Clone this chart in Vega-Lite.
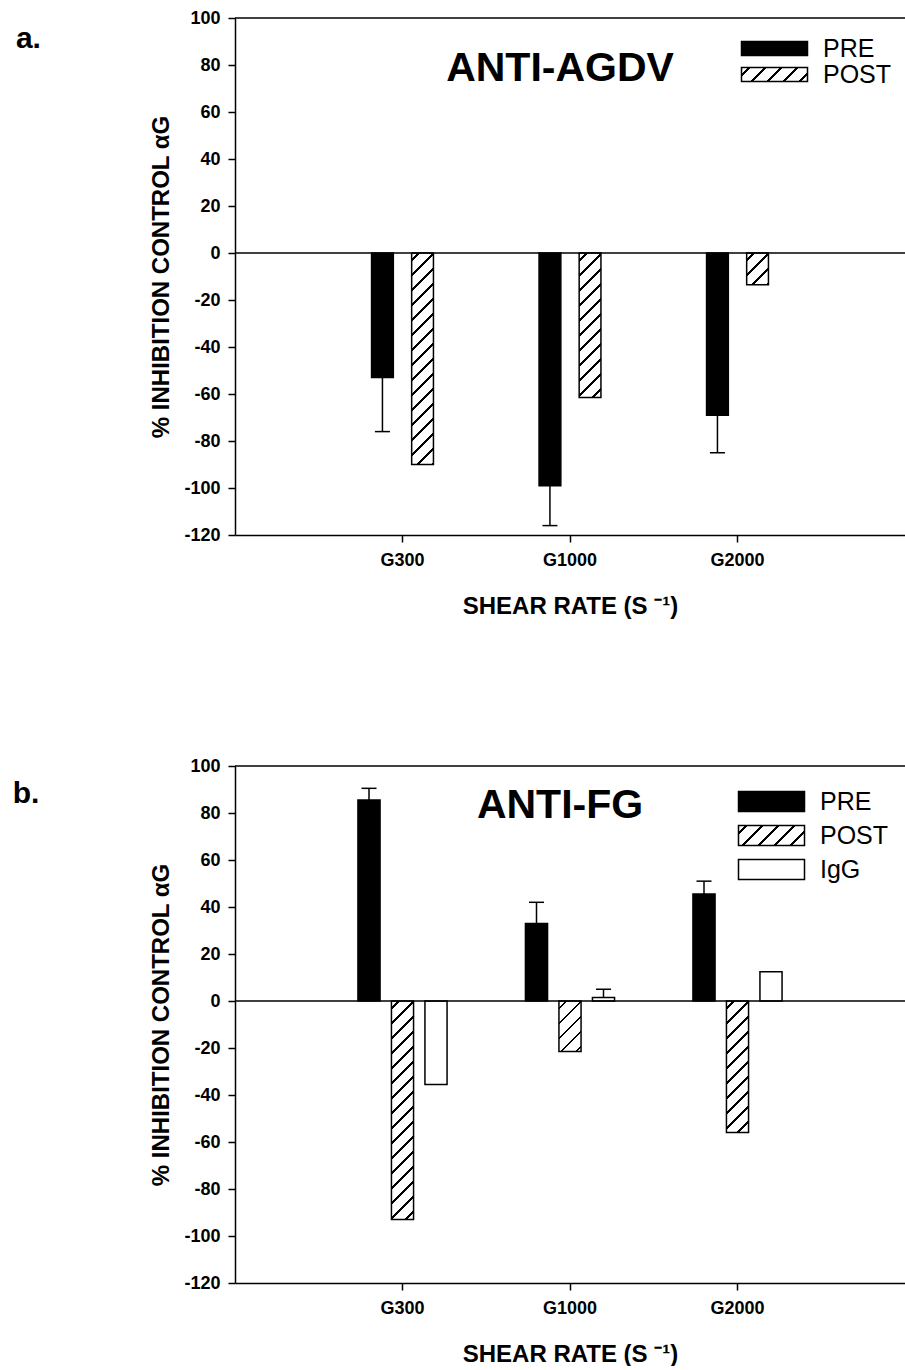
{
  "$schema": "https://vega.github.io/schema/vega-lite/v6.json",
  "background": "white",
  "padding": {"left": 12, "top": 9, "right": 0, "bottom": 0},
  "spacing": 139,
  "resolve": {"scale": {"x": "independent", "y": "independent", "xOffset": "independent", "fill": "independent"}, "legend": {"fill": "independent"}, "axis": {"x": "independent", "y": "independent"}},
  "params": [
    {"name": "hatchStops", "value": [
      {"offset": 0, "color": "white"},
      {"offset": 0.02346, "color": "white"}, {"offset": 0.02346, "color": "black"}, {"offset": 0.03423, "color": "black"}, {"offset": 0.03423, "color": "white"},
      {"offset": 0.08115, "color": "white"}, {"offset": 0.08115, "color": "black"}, {"offset": 0.09192, "color": "black"}, {"offset": 0.09192, "color": "white"},
      {"offset": 0.13885, "color": "white"}, {"offset": 0.13885, "color": "black"}, {"offset": 0.14962, "color": "black"}, {"offset": 0.14962, "color": "white"},
      {"offset": 0.19654, "color": "white"}, {"offset": 0.19654, "color": "black"}, {"offset": 0.20731, "color": "black"}, {"offset": 0.20731, "color": "white"},
      {"offset": 0.25423, "color": "white"}, {"offset": 0.25423, "color": "black"}, {"offset": 0.26500, "color": "black"}, {"offset": 0.26500, "color": "white"},
      {"offset": 0.31192, "color": "white"}, {"offset": 0.31192, "color": "black"}, {"offset": 0.32269, "color": "black"}, {"offset": 0.32269, "color": "white"},
      {"offset": 0.36962, "color": "white"}, {"offset": 0.36962, "color": "black"}, {"offset": 0.38038, "color": "black"}, {"offset": 0.38038, "color": "white"},
      {"offset": 0.42731, "color": "white"}, {"offset": 0.42731, "color": "black"}, {"offset": 0.43808, "color": "black"}, {"offset": 0.43808, "color": "white"},
      {"offset": 0.48500, "color": "white"}, {"offset": 0.48500, "color": "black"}, {"offset": 0.49577, "color": "black"}, {"offset": 0.49577, "color": "white"},
      {"offset": 0.54269, "color": "white"}, {"offset": 0.54269, "color": "black"}, {"offset": 0.55346, "color": "black"}, {"offset": 0.55346, "color": "white"},
      {"offset": 0.60038, "color": "white"}, {"offset": 0.60038, "color": "black"}, {"offset": 0.61115, "color": "black"}, {"offset": 0.61115, "color": "white"},
      {"offset": 0.65808, "color": "white"}, {"offset": 0.65808, "color": "black"}, {"offset": 0.66885, "color": "black"}, {"offset": 0.66885, "color": "white"},
      {"offset": 0.71577, "color": "white"}, {"offset": 0.71577, "color": "black"}, {"offset": 0.72654, "color": "black"}, {"offset": 0.72654, "color": "white"},
      {"offset": 0.77346, "color": "white"}, {"offset": 0.77346, "color": "black"}, {"offset": 0.78423, "color": "black"}, {"offset": 0.78423, "color": "white"},
      {"offset": 0.83115, "color": "white"}, {"offset": 0.83115, "color": "black"}, {"offset": 0.84192, "color": "black"}, {"offset": 0.84192, "color": "white"},
      {"offset": 0.88885, "color": "white"}, {"offset": 0.88885, "color": "black"}, {"offset": 0.89962, "color": "black"}, {"offset": 0.89962, "color": "white"},
      {"offset": 0.94654, "color": "white"}, {"offset": 0.94654, "color": "black"}, {"offset": 0.95731, "color": "black"}, {"offset": 0.95731, "color": "white"},
      {"offset": 1, "color": "white"}
    ]},
    {"name": "legendHatchA", "value": {"gradient": "linear", "x1": 0, "y1": 0, "x2": 1.1599, "y2": 0.246, "stops": [
      {"offset": 0, "color": "white"},
      {"offset": 0.0825, "color": "white"}, {"offset": 0.0825, "color": "black"}, {"offset": 0.1175, "color": "black"}, {"offset": 0.1175, "color": "white"},
      {"offset": 0.2825, "color": "white"}, {"offset": 0.2825, "color": "black"}, {"offset": 0.3175, "color": "black"}, {"offset": 0.3175, "color": "white"},
      {"offset": 0.4825, "color": "white"}, {"offset": 0.4825, "color": "black"}, {"offset": 0.5175, "color": "black"}, {"offset": 0.5175, "color": "white"},
      {"offset": 0.6825, "color": "white"}, {"offset": 0.6825, "color": "black"}, {"offset": 0.7175, "color": "black"}, {"offset": 0.7175, "color": "white"},
      {"offset": 0.8825, "color": "white"}, {"offset": 0.8825, "color": "black"}, {"offset": 0.9175, "color": "black"}, {"offset": 0.9175, "color": "white"},
      {"offset": 1, "color": "white"}
    ]}},
    {"name": "legendHatchB", "value": {"gradient": "linear", "x1": 0, "y1": 0, "x2": 1.1934, "y2": 0.3617, "stops": [
      {"offset": 0, "color": "white"},
      {"offset": 0.0767, "color": "white"}, {"offset": 0.0767, "color": "black"}, {"offset": 0.1093, "color": "black"}, {"offset": 0.1093, "color": "white"},
      {"offset": 0.2628, "color": "white"}, {"offset": 0.2628, "color": "black"}, {"offset": 0.2953, "color": "black"}, {"offset": 0.2953, "color": "white"},
      {"offset": 0.4488, "color": "white"}, {"offset": 0.4488, "color": "black"}, {"offset": 0.4814, "color": "black"}, {"offset": 0.4814, "color": "white"},
      {"offset": 0.6349, "color": "white"}, {"offset": 0.6349, "color": "black"}, {"offset": 0.6674, "color": "black"}, {"offset": 0.6674, "color": "white"},
      {"offset": 0.8209, "color": "white"}, {"offset": 0.8209, "color": "black"}, {"offset": 0.8535, "color": "black"}, {"offset": 0.8535, "color": "white"},
      {"offset": 1, "color": "white"}
    ]}}
  ],
  "datasets": {
    "anti_agdv": [
      {"cat": "G300", "series": "PRE", "value": -53, "errEnd": -76},
      {"cat": "G300", "series": "POST", "value": -90},
      {"cat": "G1000", "series": "PRE", "value": -99, "errEnd": -116},
      {"cat": "G1000", "series": "POST", "value": -61.5},
      {"cat": "G2000", "series": "PRE", "value": -69, "errEnd": -85},
      {"cat": "G2000", "series": "POST", "value": -13.5}
    ],
    "anti_fg": [
      {"cat": "G300", "series": "PRE", "value": 85.5, "errEnd": 90.5},
      {"cat": "G300", "series": "POST", "value": -93},
      {"cat": "G300", "series": "IgG", "value": -35.5},
      {"cat": "G1000", "series": "PRE", "value": 33, "errEnd": 42},
      {"cat": "G1000", "series": "POST", "value": -21.5},
      {"cat": "G1000", "series": "IgG", "value": 1.5, "errEnd": 5},
      {"cat": "G2000", "series": "PRE", "value": 45.5, "errEnd": 51},
      {"cat": "G2000", "series": "POST", "value": -56},
      {"cat": "G2000", "series": "IgG", "value": 12.5}
    ]
  },
  "vconcat": [
    {
      "width": 670,
      "height": 517,
      "data": {"name": "anti_agdv"},
      "title": {"text": "a.", "orient": "left", "angle": 0, "anchor": "end", "frame": "bounds", "align": "right", "baseline": "alphabetic", "offset": 84, "dy": 39, "fontSize": 30, "fontWeight": "bold", "font": "Liberation Sans", "color": "black"},
      "layer": [
        {
          "mark": {"type": "bar", "stroke": "black", "strokeWidth": 1.5, "opacity": 1},
          "encoding": {
            "x": {"field": "cat", "type": "nominal", "sort": null,
              "scale": {"domain": ["G300", "G1000", "G2000"], "paddingInner": 0.3, "paddingOuter": 0.65},
              "axis": {"title": "SHEAR RATE (S ⁻¹)", "titleFontSize": 24, "labelFontSize": 18, "tickSize": 7, "labelPadding": 9, "titlePadding": 25, "labelAngle": 0}},
            "xOffset": {"field": "series", "type": "nominal", "scale": {"domain": ["PRE", "POST"], "paddingInner": 0.457, "paddingOuter": 0.69}},
            "y": {"field": "value", "type": "quantitative", "stack": null,
              "scale": {"domain": [-120, 100], "nice": false, "zero": false},
              "axis": {"values": [-120, -100, -80, -60, -40, -20, 0, 20, 40, 60, 80, 100], "title": "% INHIBITION CONTROL αG", "titleFontSize": 24, "labelFontSize": 18, "tickSize": 7, "labelPadding": 8, "titlePadding": 10, "labelExpr": "'' + datum.value"}},
            "fill": {
              "condition": {"test": "datum.series === 'POST'", "value": {"expr": "{gradient: 'linear', x1: 0, y1: 0, x2: 21.8*260/(21.8*21.8 + pow(abs(datum.value)*2.35, 2)), y2: abs(datum.value)*2.35*260/(21.8*21.8 + pow(abs(datum.value)*2.35, 2)), stops: hatchStops}"}},
              "field": "series", "type": "nominal",
              "scale": {"domain": ["PRE", "POST"], "range": ["black", {"expr": "legendHatchA"}]},
              "legend": {"title": null, "orient": "none", "legendX": 499, "legendY": 18, "padding": 0, "symbolType": "M-6.6,-1.4H6.6V1.4H-6.6Z", "symbolSize": 100, "symbolOffset": 28, "labelOffset": 36, "symbolStrokeColor": "black", "symbolStrokeWidth": 1.5, "symbolOpacity": 1, "labelFont": "Liberation Sans", "labelFontSize": 25, "labelColor": "black", "rowPadding": 0, "labelBaseline": "middle"}
            }
          }
        },
        {
          "data": {"values": [{"line": "top"}]},
          "mark": {"type": "rule", "color": "black", "strokeWidth": 1.5},
          "encoding": {"y": {"datum": 100, "type": "quantitative"}}
        },
        {
          "data": {"values": [{"line": "zero"}]},
          "mark": {"type": "rule", "color": "black", "strokeWidth": 1.5},
          "encoding": {"y": {"datum": 0, "type": "quantitative"}}
        },
        {
          "transform": [{"filter": "isValid(datum.errEnd)"}],
          "mark": {"type": "rule", "color": "black", "strokeWidth": 1.5},
          "encoding": {
            "x": {"field": "cat", "type": "nominal", "sort": null},
            "xOffset": {"field": "series", "type": "nominal"},
            "y": {"field": "value", "type": "quantitative"},
            "y2": {"field": "errEnd"}
          }
        },
        {
          "transform": [{"filter": "isValid(datum.errEnd)"}],
          "mark": {"type": "tick", "orient": "horizontal", "size": 15, "thickness": 1.5, "color": "black", "opacity": 1},
          "encoding": {
            "x": {"field": "cat", "type": "nominal", "sort": null},
            "xOffset": {"field": "series", "type": "nominal"},
            "y": {"field": "errEnd", "type": "quantitative"}
          }
        },
        {
          "data": {"values": [{"label": "ANTI-AGDV"}]},
          "mark": {"type": "text", "font": "Liberation Sans", "fontSize": 41, "fontWeight": "bold", "color": "black", "baseline": "alphabetic", "align": "center", "dx": -10},
          "encoding": {
            "x": {"datum": "G1000", "type": "nominal"},
            "y": {"datum": 73.2, "type": "quantitative"},
            "text": {"field": "label"}
          }
        }
      ]
    },
    {
      "width": 670,
      "height": 517,
      "data": {"name": "anti_fg"},
      "title": {"text": "b.", "orient": "left", "angle": 0, "anchor": "end", "frame": "bounds", "align": "right", "baseline": "alphabetic", "offset": 84, "dy": 46, "fontSize": 30, "fontWeight": "bold", "font": "Liberation Sans", "color": "black"},
      "layer": [
        {
          "mark": {"type": "bar", "stroke": "black", "strokeWidth": 1.5, "opacity": 1},
          "encoding": {
            "x": {"field": "cat", "type": "nominal", "sort": null,
              "scale": {"domain": ["G300", "G1000", "G2000"], "paddingInner": 0.3, "paddingOuter": 0.65},
              "axis": {"title": "SHEAR RATE (S ⁻¹)", "titleFontSize": 24, "labelFontSize": 18, "tickSize": 7, "labelPadding": 9, "titlePadding": 25, "labelAngle": 0}},
            "xOffset": {"field": "series", "type": "nominal", "scale": {"domain": ["PRE", "POST", "IgG"], "paddingInner": 0.34, "paddingOuter": 0.42}},
            "y": {"field": "value", "type": "quantitative", "stack": null,
              "scale": {"domain": [-120, 100], "nice": false, "zero": false},
              "axis": {"values": [-120, -100, -80, -60, -40, -20, 0, 20, 40, 60, 80, 100], "title": "% INHIBITION CONTROL αG", "titleFontSize": 24, "labelFontSize": 18, "tickSize": 7, "labelPadding": 8, "titlePadding": 10, "labelExpr": "'' + datum.value"}},
            "fill": {
              "condition": {"test": "datum.series === 'POST'", "value": {"expr": "{gradient: 'linear', x1: 0, y1: 0, x2: 22.1*260/(22.1*22.1 + pow(abs(datum.value)*2.35, 2)), y2: abs(datum.value)*2.35*260/(22.1*22.1 + pow(abs(datum.value)*2.35, 2)), stops: hatchStops}"}},
              "field": "series", "type": "nominal",
              "scale": {"domain": ["PRE", "POST", "IgG"], "range": ["black", {"expr": "legendHatchB"}, "white"]},
              "legend": {"title": null, "orient": "none", "legendX": 496, "legendY": 23, "padding": 0, "symbolType": "M-6.6,-2H6.6V2H-6.6Z", "symbolSize": 100, "symbolOffset": 28, "labelOffset": 36, "symbolStrokeColor": "black", "symbolStrokeWidth": 1.5, "symbolOpacity": 1, "labelFont": "Liberation Sans", "labelFontSize": 25, "labelColor": "black", "rowPadding": 7, "labelBaseline": "middle"}
            }
          }
        },
        {
          "data": {"values": [{"line": "top"}]},
          "mark": {"type": "rule", "color": "black", "strokeWidth": 1.5},
          "encoding": {"y": {"datum": 100, "type": "quantitative"}}
        },
        {
          "data": {"values": [{"line": "zero"}]},
          "mark": {"type": "rule", "color": "black", "strokeWidth": 1.5},
          "encoding": {"y": {"datum": 0, "type": "quantitative"}}
        },
        {
          "transform": [{"filter": "isValid(datum.errEnd)"}],
          "mark": {"type": "rule", "color": "black", "strokeWidth": 1.5},
          "encoding": {
            "x": {"field": "cat", "type": "nominal", "sort": null},
            "xOffset": {"field": "series", "type": "nominal"},
            "y": {"field": "value", "type": "quantitative"},
            "y2": {"field": "errEnd"}
          }
        },
        {
          "transform": [{"filter": "isValid(datum.errEnd)"}],
          "mark": {"type": "tick", "orient": "horizontal", "size": 15, "thickness": 1.5, "color": "black", "opacity": 1},
          "encoding": {
            "x": {"field": "cat", "type": "nominal", "sort": null},
            "xOffset": {"field": "series", "type": "nominal"},
            "y": {"field": "errEnd", "type": "quantitative"}
          }
        },
        {
          "data": {"values": [{"label": "ANTI-FG"}]},
          "mark": {"type": "text", "font": "Liberation Sans", "fontSize": 41, "fontWeight": "bold", "color": "black", "baseline": "alphabetic", "align": "center", "dx": -10},
          "encoding": {
            "x": {"datum": "G1000", "type": "nominal"},
            "y": {"datum": 77.7, "type": "quantitative"},
            "text": {"field": "label"}
          }
        }
      ]
    }
  ],
  "config": {
    "font": "Liberation Sans",
    "view": {"stroke": null},
    "axis": {"domainColor": "black", "domainWidth": 1.5, "tickColor": "black", "tickWidth": 1.5, "labelColor": "black", "titleColor": "black", "labelFont": "Liberation Sans", "titleFont": "Liberation Sans", "labelFontWeight": "bold", "titleFontWeight": "bold", "grid": false}
  }
}
